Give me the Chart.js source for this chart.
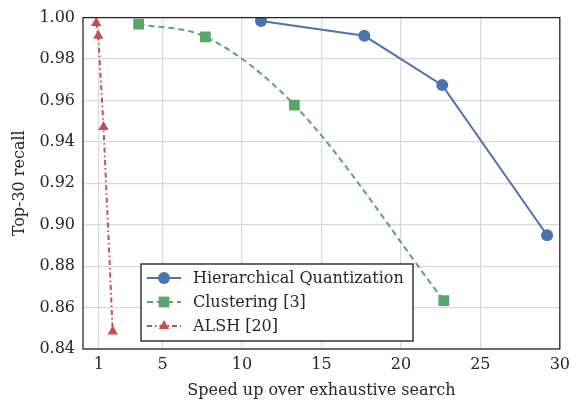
<!DOCTYPE html>
<html>
<head>
<meta charset="utf-8">
<script src="https://cdn.jsdelivr.net/npm/chart.js@4"></script>
<style>
  html, body { margin: 0; padding: 0; background: #fff; }
  #wrap { width: 576px; height: 403px; }
</style>
</head>
<body>
<div id="wrap"><canvas id="chart" width="576" height="403"></canvas></div>
<script>
// data
const hqSpeed = [11.2, 17.7, 22.6, 29.2];
const hqRecall = [0.9984, 0.9912, 0.9674, 0.8949];
const clSpeed = [3.5, 7.7, 13.3, 22.7];
const clRecall = [0.9968, 0.9907, 0.9578, 0.8633];
const alshSpeed = [0.83, 0.96, 1.29, 1.87];
const alshRecall = [0.9974, 0.9912, 0.9472, 0.8485];
const seriesNames = ['Hierarchical Quantization', 'Clustering [3]', 'ALSH [20]'];
const xTicks = [1, 5, 10, 15, 20, 25, 30];
const yTicks = [0.84, 0.86, 0.88, 0.90, 0.92, 0.94, 0.96, 0.98, 1.00];

const FONT = "'DejaVu Serif', serif";
const TEXT = '#262626';

function pts(xs, ys) {
  return xs.map((x, i) => ({ x: x, y: ys[i] }));
}

// box around the plot area
const frame = {
  id: 'frame',
  afterDraw(chart) {
    const { ctx, chartArea: a } = chart;
    ctx.save();
    ctx.strokeStyle = '#222';
    ctx.lineWidth = 1.25;
    ctx.strokeRect(a.left, a.top, a.right - a.left, a.bottom - a.top);
    ctx.restore();
  }
};

function marker(ctx, style, x, y, r) {
  ctx.beginPath();
  if (style === 'circle') {
    ctx.arc(x, y, r, 0, Math.PI * 2);
  } else if (style === 'rect') {
    const s = r * Math.SQRT1_2;
    ctx.rect(x - s, y - s, 2 * s, 2 * s);
  } else {
    ctx.moveTo(x, y - r);
    ctx.lineTo(x + r * Math.sin(2 * Math.PI / 3), y - r * Math.cos(2 * Math.PI / 3));
    ctx.lineTo(x + r * Math.sin(4 * Math.PI / 3), y - r * Math.cos(4 * Math.PI / 3));
    ctx.closePath();
  }
  ctx.fill();
}

// legend box inside the plot, lower left
const boxLegend = {
  id: 'boxLegend',
  afterDraw(chart) {
    const { ctx, chartArea: a } = chart;
    const left = a.left + 58, top = a.bottom - 85, w = 272, h = 77;
    ctx.save();
    ctx.fillStyle = '#fff';
    ctx.fillRect(left, top, w, h);
    ctx.strokeStyle = '#111';
    ctx.lineWidth = 1.25;
    ctx.strokeRect(left, top, w, h);
    chart.data.datasets.forEach((ds, i) => {
      const y = top + 14 + i * 24;
      ctx.strokeStyle = ds.borderColor;
      ctx.lineWidth = ds.borderWidth;
      ctx.setLineDash(ds.borderDash || []);
      ctx.beginPath();
      ctx.moveTo(left + 6, y);
      ctx.lineTo(left + 40, y);
      ctx.stroke();
      ctx.setLineDash([]);
      ctx.fillStyle = ds.pointBackgroundColor;
      marker(ctx, ds.pointStyle, left + 23, y, ds.pointRadius);
      ctx.fillStyle = TEXT;
      ctx.font = '16px ' + FONT;
      ctx.textBaseline = 'middle';
      ctx.fillText(ds.label, left + 52, y + 1);
    });
    ctx.restore();
  }
};

new Chart(document.getElementById('chart'), {
  type: 'line',
  data: {
    datasets: [
      {
        label: seriesNames[0],
        data: pts(hqSpeed, hqRecall),
        borderColor: '#4C72B0',
        backgroundColor: '#4C72B0',
        pointBackgroundColor: '#4C72B0',
        pointBorderWidth: 0,
        pointStyle: 'circle',
        pointRadius: 6,
        borderWidth: 2,
        tension: 0
      },
      {
        label: seriesNames[1],
        data: pts(clSpeed, clRecall),
        borderColor: '#55A868',
        backgroundColor: '#55A868',
        pointBackgroundColor: '#55A868',
        pointBorderWidth: 0,
        pointStyle: 'rect',
        pointRadius: 7.6,
        borderWidth: 2,
        borderDash: [6, 4],
        cubicInterpolationMode: 'monotone'
      },
      {
        label: seriesNames[2],
        data: pts(alshSpeed, alshRecall),
        borderColor: '#C44E52',
        backgroundColor: '#C44E52',
        pointBackgroundColor: '#C44E52',
        pointBorderWidth: 0,
        pointStyle: 'triangle',
        pointRadius: 6,
        borderWidth: 2,
        borderDash: [5, 3, 1.5, 3],
        tension: 0
      }
    ]
  },
  options: {
    responsive: false,
    animation: false,
    layout: { padding: { top: 17, right: 10, left: 0, bottom: 0 } },
    plugins: {
      legend: { display: false },
      tooltip: { enabled: false }
    },
    scales: {
      x: {
        type: 'linear',
        min: 0,
        max: 30,
        afterBuildTicks: s => { s.ticks = xTicks.map(v => ({ value: v })); },
        afterFit: s => { s.height = 54; },
        grid: { color: '#d9d9d9', lineWidth: 1.2, drawTicks: false },
        border: { display: false },
        ticks: {
          padding: 6,
          color: TEXT,
          font: { family: FONT, size: 16 },
          callback: v => String(v)
        },
        title: {
          display: true,
          text: 'Speed up over exhaustive search',
          color: TEXT,
          font: { family: FONT, size: 16 },
          padding: { top: 4, bottom: 3 }
        }
      },
      y: {
        min: 0.84,
        max: 1.0,
        afterBuildTicks: s => { s.ticks = yTicks.map(v => ({ value: v })); },
        afterFit: s => { s.width = 83; },
        grid: { color: '#d9d9d9', lineWidth: 1.2, drawTicks: false },
        border: { display: false },
        ticks: {
          padding: 8,
          color: TEXT,
          font: { family: FONT, size: 16 },
          callback: v => v.toFixed(2)
        },
        title: {
          display: true,
          text: 'Top-30 recall',
          color: TEXT,
          font: { family: FONT, size: 16 },
          padding: { top: 10, bottom: 0 }
        }
      }
    }
  },
  plugins: [frame, boxLegend]
});
</script>
</body>
</html>
